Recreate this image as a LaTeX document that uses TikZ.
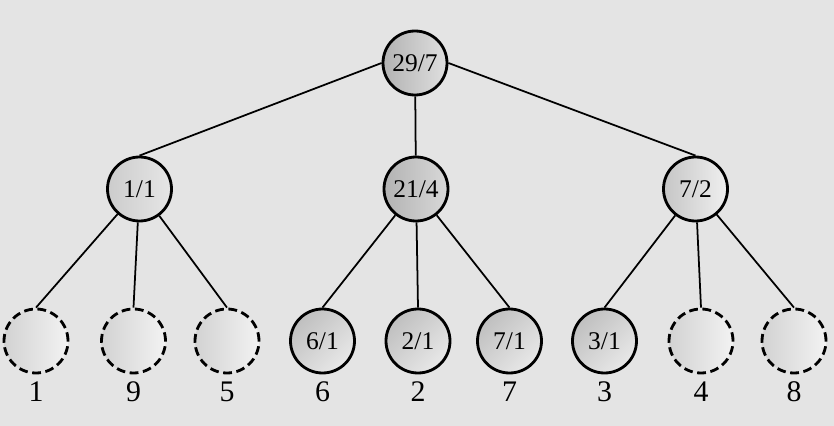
\documentclass[tikz,border=0pt]{standalone}
\usepackage{fontspec}
\setmainfont{Liberation Serif}
\usetikzlibrary{calc}
\definecolor{paper}{RGB}{228,228,228}

\begin{document}
\begin{tikzpicture}[scale=1.0,
    every node/.style={font=\fontsize{14.5}{17}\selectfont},
    every label/.style={font=\fontsize{17}{19}\selectfont},
    val/.style={circle,draw,line width=1.6pt,minimum size=1.28cm,inner sep=0pt,
      left color=gray!50,right color=gray!18,shading angle=45},
    open/.style={val,dashed,dash pattern=on 5pt off 2.6pt,left color=gray!35,right color=gray!10},
    shut/.style={val},
    link/.style={line width=1pt}]
  % paper and frame
  \fill[paper] (0,0) rectangle (16.68,-8.52);
  \useasboundingbox (0,0) rectangle (16.68,-8.52);
  % root and middle layer
  \node[val,left color=gray!60,right color=gray!25] (root) at (8.30,-1.26) {29/7};
  \node[val,left color=gray!40,right color=gray!20] (a) at (2.79,-3.78) {1/1};
  \node[val,left color=gray!60,right color=gray!30] (b) at (8.32,-3.78) {21/4};
  \node[val,left color=gray!45,right color=gray!12] (c) at (13.91,-3.78) {7/2};
  % bottom layer, value inside, index below
  \foreach \n/\x/\t/\l/\s in {l1/0.72//1/open, l2/2.67//9/open, l3/4.54//5/open,
      l4/6.45/6\slash1/6/shut, l5/8.36/2\slash1/2/shut, l6/10.19/7\slash1/7/shut,
      l7/12.09/3\slash1/3/shut, l8/14.02//4/open, l9/15.88//8/open} {
    \node[\s,label={[label distance=0.5pt]below:\l}] (\n) at (\x,-6.82) {\t};
  }
  % connectors
  \draw[link] (root.west) -- (a.north);
  \draw[link] (root) -- (b);
  \draw[link] (root.east) -- (c.north);
  \foreach \p/\c in {a/l1,a/l2,a/l3,b/l4,b/l5,b/l6,c/l7,c/l8,c/l9} {
    \draw[link] (\p) -- (\c.north);
  }
\end{tikzpicture}
\end{document}
